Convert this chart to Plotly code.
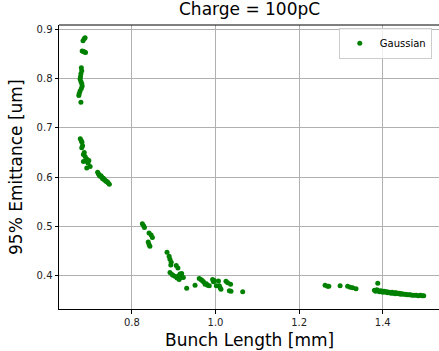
import plotly.graph_objects as go

# Bunch length [mm] and 95% emittance [um] for the Gaussian scan
bunch_length = [
    # top group
    0.683, 0.686, 0.688, 0.681, 0.684, 0.687, 0.689,
    0.679, 0.680, 0.678, 0.677, 0.676, 0.678, 0.680, 0.681, 0.679, 0.676, 0.674, 0.673, 0.678,
    # 0.6 - 0.68 group
    0.6765, 0.679, 0.6805, 0.682, 0.680, 0.686, 0.684, 0.688, 0.692, 0.684, 0.690, 0.695, 0.697, 0.692, 0.700,
    0.718, 0.720, 0.722, 0.724, 0.726, 0.728, 0.730, 0.732, 0.734, 0.736, 0.738, 0.741, 0.743, 0.746,
    # 0.46 - 0.51 group
    0.825, 0.828, 0.830, 0.841, 0.846, 0.849, 0.839, 0.841, 0.843,
    # 0.37 - 0.45 group
    0.884, 0.889, 0.891, 0.894, 0.893, 0.906, 0.910, 0.891, 0.896, 0.899, 0.904, 0.911, 0.915, 0.919,
    0.908, 0.913, 0.917, 0.923, 0.931, 0.951, 0.961,
    0.965, 0.968, 0.971, 0.975, 0.978, 0.981, 0.985, 0.993, 0.995, 0.997, 1.002, 1.007, 1.009, 1.011,
    1.013, 1.025, 1.029, 1.036, 1.033, 1.037, 1.065,
    # long-bunch group
    1.262, 1.268, 1.271, 1.298, 1.316, 1.322, 1.328, 1.336,
    1.388, 1.380, 1.383, 1.386, 1.389, 1.392, 1.395, 1.398, 1.400, 1.403, 1.405, 1.408, 1.410, 1.412,
    1.415, 1.418, 1.420, 1.422, 1.425, 1.428, 1.430, 1.432, 1.435, 1.438, 1.440, 1.443, 1.446, 1.450,
    1.454, 1.458, 1.462, 1.466, 1.470, 1.475, 1.480, 1.485, 1.490, 1.494, 1.498,
]
emittance = [
    0.877, 0.881, 0.883, 0.856, 0.855, 0.854, 0.853,
    0.822, 0.816, 0.810, 0.804, 0.799, 0.794, 0.790, 0.785, 0.780, 0.775, 0.770, 0.766, 0.752,
    0.678, 0.674, 0.671, 0.664, 0.660, 0.650, 0.646, 0.642, 0.637, 0.632, 0.633, 0.629, 0.634, 0.619, 0.622,
    0.610, 0.607, 0.604, 0.602, 0.603, 0.600, 0.597, 0.598, 0.595, 0.594, 0.592, 0.591, 0.589, 0.586,
    0.506, 0.502, 0.498, 0.487, 0.483, 0.478, 0.469, 0.464, 0.460,
    0.448, 0.440, 0.434, 0.428, 0.422, 0.421, 0.416, 0.407, 0.403, 0.401, 0.399, 0.400, 0.404, 0.405,
    0.396, 0.393, 0.397, 0.397, 0.375, 0.381, 0.395,
    0.393, 0.391, 0.388, 0.383, 0.384, 0.381, 0.380, 0.393, 0.388, 0.391, 0.380, 0.390, 0.380, 0.376,
    0.373, 0.389, 0.386, 0.383, 0.370, 0.369, 0.368,
    0.381, 0.379, 0.379, 0.380, 0.379, 0.377, 0.376, 0.374,
    0.385, 0.371, 0.369, 0.372, 0.370, 0.368, 0.370, 0.369, 0.367, 0.369, 0.368, 0.367, 0.368, 0.366,
    0.367, 0.366, 0.365, 0.367, 0.365, 0.366, 0.364, 0.366, 0.365, 0.364, 0.365, 0.363, 0.364, 0.363,
    0.363, 0.362, 0.362, 0.362, 0.361, 0.361, 0.361, 0.360, 0.361, 0.360, 0.360,
]

x_ticks = [0.8, 1.0, 1.2, 1.4]
y_ticks = [0.4, 0.5, 0.6, 0.7, 0.8, 0.9]

FONT = "DejaVu Sans"

fig = go.Figure()
fig.add_trace(go.Scatter(
    x=bunch_length, y=emittance, mode="markers", name="Gaussian",
    marker=dict(color="#008000", size=5, line=dict(width=0)),
))

axis_common = dict(
    showgrid=True, gridcolor="#b0b0b0", gridwidth=1,
    showline=True, linecolor="#000000", linewidth=1,
    ticks="outside", ticklen=3.5, tickcolor="#000000", tickwidth=1,
    tickfont=dict(family=FONT, size=10, color="#222222"),
    zeroline=False, mirror=False,
)

fig.update_layout(
    width=439, height=351,
    margin=dict(l=59, r=0, t=25, b=41.5),
    paper_bgcolor="white", plot_bgcolor="white",
    font=dict(family=FONT, color="#000000"),
    xaxis=dict(range=[0.6256, 1.5345], tickvals=x_ticks,
               ticktext=[f"{v:.1f}" for v in x_ticks], **axis_common),
    yaxis=dict(range=[0.333, 0.9087], tickvals=y_ticks,
               ticktext=[f"{v:.1f}" for v in y_ticks], **axis_common),
    showlegend=True,
    legend=dict(
        x=0.981, y=0.99, xanchor="right", yanchor="top",
        bgcolor="rgba(255,255,255,0.8)", bordercolor="#cccccc", borderwidth=1,
        font=dict(family=FONT, size=10, color="#000000"),
        tracegroupgap=0, itemwidth=30,
    ),
    shapes=[dict(type="line", xref="paper", yref="paper", x0=0, x1=1, y0=1, y1=1,
                 line=dict(color="#000000", width=1))],
    annotations=[
        dict(text="Charge = 100pC", xref="paper", yref="paper", x=0.5, y=1.0,
             yshift=4, xanchor="center", yanchor="bottom", showarrow=False,
             font=dict(family=FONT, size=17, color="#000000")),
        dict(text="Bunch Length [mm]", xref="paper", yref="paper", x=0.5, y=0,
             yshift=-19, xanchor="center", yanchor="top", showarrow=False,
             font=dict(family=FONT, size=17, color="#000000")),
        dict(text="95% Emittance [um]", xref="paper", yref="paper", x=0, y=0.5,
             xshift=-31, xanchor="right", yanchor="middle", textangle=-90, showarrow=False,
             font=dict(family=FONT, size=17, color="#000000")),
    ],
)

fig.write_html("out.html")
